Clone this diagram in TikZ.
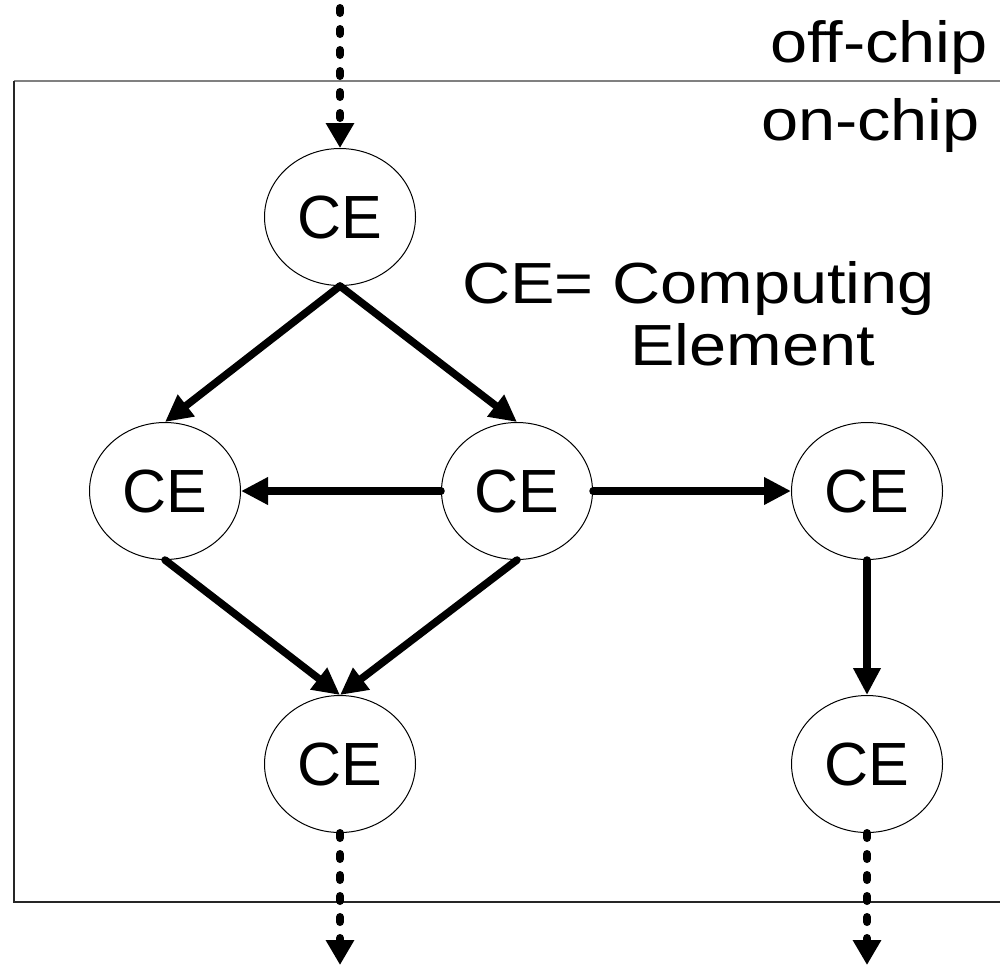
\documentclass[tikz,border=0pt]{standalone}
\usepackage{fontspec}
\setmainfont{Liberation Sans}
\newfontfamily\widesans[FakeStretch=1.15]{Liberation Sans}
\usetikzlibrary{arrows.meta,shapes.geometric}

\tikzset{
  ce/.style={ellipse, draw=black, line width=1pt, minimum width=151pt,
    minimum height=137pt, inner sep=0pt,
    font=\fontsize{61}{61}\selectfont},
  flow/.style={line width=7.5pt, line cap=round,
    -{Triangle[length=27pt,width=26pt]}},
  io/.style={line width=8pt, line cap=round, dash pattern=on 5pt off 16pt,
    -{Triangle[length=25pt,width=27pt]}},
  lbl/.style={inner sep=0pt, font=\widesans\fontsize{58}{58}\selectfont},
}

\begin{document}
\begin{tikzpicture}[x=1pt,y=-1pt]
  \useasboundingbox (0,0) rectangle (1000,970);

  % chip boundary
  \draw[line width=2pt, draw=gray] (14,81) -- (1000,81);
  \draw[line width=2pt, draw=black!85] (14,81) -- (14,902) -- (1000,902);

  % labels
  \node[lbl, anchor=base east] (off) at (988,62) {off-chip};
  \node[lbl, anchor=base east] (on) at (980,140) {on-chip};
  \node[lbl, anchor=base west] (def1) at (462,303) {CE= Computing};
  \node[lbl, anchor=base west] (def2) at (630,365) {Element};

  % computing elements
  \node[ce] (top) at (340,217) {CE};
  \node[ce] (ml)  at (165,491) {CE};
  \node[ce] (mc)  at (517,491) {CE};
  \node[ce] (mr)  at (867,491) {CE};
  \node[ce] (bl)  at (340,764) {CE};
  \node[ce] (br)  at (867,764) {CE};

  % off-chip ends
  \coordinate (in)   at (340,8);
  \coordinate (out1) at (340,965);
  \coordinate (out2) at (867,965);

  % on-chip connections
  \draw[flow] (top.south) -- (ml.north);
  \draw[flow] (top.south) -- (mc.north);
  \draw[flow] (mc.west) -- (ml.east);
  \draw[flow] (mc.east) -- (mr.west);
  \draw[flow] (ml.south) -- (bl.north);
  \draw[flow] (mc.south) -- (bl.north);
  \draw[flow] (mr.south) -- (br.north);

  % off-chip connections
  \draw[io] (in) -- (top.north);
  \draw[io] (bl.south) -- (out1);
  \draw[io] (br.south) -- (out2);
\end{tikzpicture}
\end{document}
